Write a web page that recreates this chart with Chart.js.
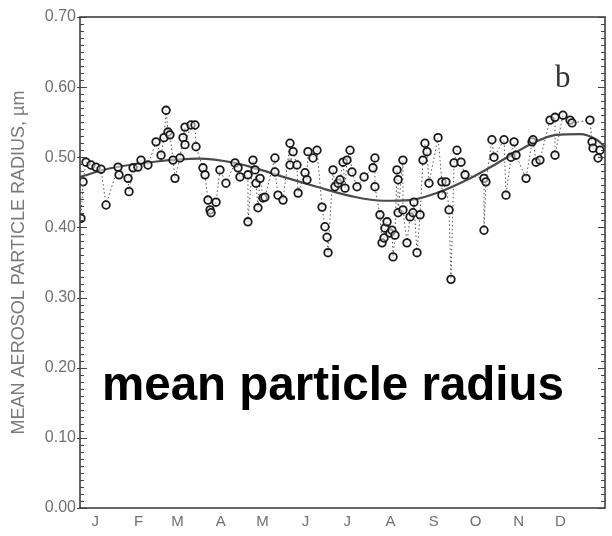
<!DOCTYPE html>
<html>
<head>
<meta charset="utf-8">
<script src="https://cdn.jsdelivr.net/npm/chart.js@4.4.1/dist/chart.umd.min.js"></script>
<style>
  html, body { margin: 0; padding: 0; background: #fff; }
  #wrap { position: relative; width: 612px; height: 536px; }
  #note { position: absolute; left: 102px; top: 360px; font: bold 47.5px "Liberation Sans", Arial, sans-serif; line-height: 47px; color: #000; white-space: nowrap; }
  #panel { position: absolute; left: 555px; top: 61px; font: 31px "Liberation Serif", "Times New Roman", serif; line-height: 32px; color: #333; }
</style>
</head>
<body>
<div id="wrap">
  <canvas id="c" width="612" height="536"></canvas>
  <div id="note">mean particle radius</div>
  <div id="panel">b</div>
</div>
<script>
// Month tick labels (x axis = day of year)
const monthLabels = ['J','F','M','A','M','J','J','A','S','O','N','D'];
const monthStartDays = [1,32,60,91,121,152,182,213,244,274,305,335];

// Observed mean aerosol particle radius (µm) by day of year
const obsDay = [
  -9.3,-7.8,-5.7,-2.1,1.5,5.1,8.7,17.3,18.0,24.5,25.2,28.1,31.6,33.8,38.8,44.6,48.2,50.3,51.8,53.2,
  54.6,56.8,58.2,61.8,64.0,65.4,65.4,69.7,72.6,73.3,78.3,79.8,81.9,83.4,84.1,87.7,90.5,94.8,101.3,103.5,
  104.9,110.6,110.6,114.2,115.7,116.4,117.8,119.3,121.4,122.8,130.0,130.0,132.2,135.8,140.8,140.8,143.0,145.8,146.6,151.6,
  153.0,153.7,157.3,160.2,163.8,165.9,167.4,168.1,171.7,173.1,175.3,176.7,178.9,180.3,181.7,183.9,185.3,188.9,194.0,200.4,
  201.8,201.8,205.4,206.9,208.3,209.0,210.5,212.6,214.0,214.8,216.2,217.6,218.4,218.4,221.9,221.9,224.8,227.0,229.1,229.8,
  232.0,234.2,236.3,237.7,239.2,240.6,247.1,249.9,249.9,252.8,255.0,256.4,258.6,260.7,263.6,266.5,280.1,280.1,281.5,285.8,
  287.3,294.5,295.9,299.5,301.7,303.1,310.3,314.6,315.3,317.5,320.3,327.5,331.1,331.1,336.8,341.9,343.3,356.2,357.7,358.4,
  362.0,363.4
];
const obsRadius = [
  0.413,0.465,0.493,0.489,0.486,0.483,0.432,0.486,0.475,0.470,0.451,0.485,0.486,0.496,0.489,0.522,0.503,0.528,0.567,0.536,
  0.532,0.496,0.470,0.499,0.528,0.543,0.518,0.546,0.546,0.515,0.485,0.475,0.439,0.425,0.421,0.436,0.482,0.463,0.492,0.485,
  0.472,0.475,0.408,0.496,0.482,0.463,0.428,0.470,0.442,0.443,0.499,0.479,0.446,0.439,0.520,0.489,0.508,0.489,0.449,0.478,
  0.468,0.508,0.499,0.510,0.429,0.401,0.386,0.364,0.482,0.458,0.463,0.468,0.493,0.456,0.496,0.510,0.479,0.458,0.472,0.485,
  0.499,0.458,0.418,0.378,0.385,0.399,0.408,0.392,0.396,0.358,0.389,0.482,0.468,0.421,0.496,0.425,0.378,0.415,0.421,0.436,
  0.364,0.418,0.496,0.520,0.508,0.463,0.528,0.465,0.446,0.465,0.425,0.326,0.492,0.510,0.493,0.475,0.470,0.396,0.465,0.525,
  0.500,0.525,0.446,0.500,0.522,0.503,0.470,0.522,0.525,0.493,0.496,0.553,0.557,0.503,0.560,0.553,0.549,0.553,0.522,0.513,
  0.499,0.510
];

// Smooth seasonal fit (µm)
const fitDay = [-10,11,45,75,101,120,136,160,184,208,227,246,272,297,315,332,349,361,367];
const fitRadius = [0.472,0.484,0.494,0.498,0.492,0.482,0.472,0.458,0.445,0.438,0.439,0.449,0.472,0.500,0.520,0.532,0.533,0.525,0.515];

const obsPoints = obsDay.map((d, i) => ({ x: d, y: obsRadius[i] }));
const fitPoints = fitDay.map((d, i) => ({ x: d, y: fitRadius[i] }));

const framePlugin = {
  id: 'frame',
  afterDraw(chart) {
    const { ctx, chartArea: a, scales } = chart;
    const y = scales.y;
    ctx.save();
    ctx.strokeStyle = '#333';
    ctx.lineWidth = 1.5;
    ctx.strokeRect(a.left, a.top, a.right - a.left, a.bottom - a.top);
    ctx.lineWidth = 1;
    ctx.strokeStyle = '#444';
    for (let k = 0; k <= 70; k++) {
      const py = Math.round(y.getPixelForValue(k / 100)) + 0.5;
      const major = k % 10 === 0;
      ctx.beginPath();
      ctx.moveTo(a.left - (major ? 3 : 0), py);
      ctx.lineTo(a.left + (major ? 7 : 4), py);
      ctx.moveTo(a.right - (major ? 7 : 4), py);
      ctx.lineTo(a.right, py);
      ctx.stroke();
    }
    ctx.restore();
  }
};

new Chart(document.getElementById('c'), {
  type: 'scatter',
  data: {
    datasets: [
      {
        data: fitPoints,
        showLine: true,
        borderColor: '#4a4a4a',
        borderWidth: 2.2,
        pointRadius: 0,
        cubicInterpolationMode: 'monotone',
        order: 2
      },
      {
        data: obsPoints,
        showLine: true,
        borderColor: '#555',
        borderWidth: 1,
        borderDash: [1.5, 2.5],
        pointStyle: 'circle',
        pointRadius: 3.8,
        pointBorderWidth: 1.8,
        pointBorderColor: '#1a1a1a',
        pointBackgroundColor: 'rgba(255,255,255,0.5)',
        order: 1
      }
    ]
  },
  options: {
    responsive: false,
    animation: false,
    layout: { padding: { top: 17, right: 7, left: 0, bottom: 0 } },
    plugins: { legend: { display: false }, tooltip: { enabled: false } },
    scales: {
      x: {
        type: 'linear',
        min: -10,
        max: 367,
        afterBuildTicks(scale) { scale.ticks = monthStartDays.map(v => ({ value: v })); },
        ticks: {
          autoSkip: false,
          maxRotation: 0,
          padding: 5,
          color: '#707070',
          font: { family: 'Liberation Sans', size: 15 },
          callback(value) { const i = monthStartDays.indexOf(value); return i >= 0 ? monthLabels[i] : ''; }
        },
        grid: { display: false, drawTicks: false },
        border: { display: false },
        afterFit(scale) { scale.height = 28; }
      },
      y: {
        min: 0,
        max: 0.7,
        ticks: {
          stepSize: 0.1,
          padding: 4,
          color: '#707070',
          font: { family: 'Liberation Sans', size: 16 },
          callback(value) { return Number(value).toFixed(2); }
        },
        grid: { display: false, drawTicks: false },
        border: { display: false },
        title: {
          display: true,
          text: 'MEAN AEROSOL PARTICLE RADIUS, µm',
          color: '#7a7a7a',
          font: { family: 'Liberation Sans', size: 18 },
          padding: 8
        },
        afterFit(scale) { scale.width = 80; }
      }
    }
  },
  plugins: [framePlugin]
});
</script>
</body>
</html>
